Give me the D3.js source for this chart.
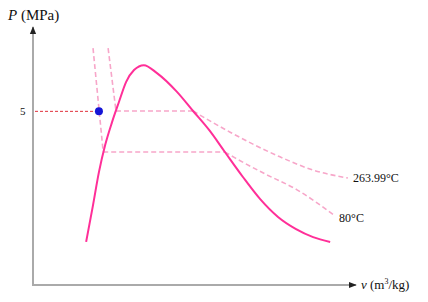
<!DOCTYPE html>
<html lang="en">
<head>
<meta charset="UTF-8">
<title>P-v diagram</title>
<script src="https://d3js.org/d3.v7.min.js"></script>
<style>
  body { margin: 0; background: #fff; }
  svg { display: block; }
  text { font-family: "Liberation Serif", "Times New Roman", serif; fill: #111; }
</style>
</head>
<body>
<script>
// saturation dome [v, P] (schematic)
const dome = [
  [1.62, 1.24], [1.83, 2.30], [2.01, 3.25], [2.20, 4.03], [2.41, 4.69],
  [2.62, 5.27], [2.84, 5.85], [3.08, 6.19], [3.38, 6.33],
  [3.78, 6.10], [4.39, 5.56], [4.88, 5.01], [5.38, 4.45], [5.85, 3.83],
  [6.40, 3.11], [6.92, 2.48], [7.47, 1.96], [8.02, 1.61], [8.54, 1.38], [9.06, 1.24]
];

// isotherms: liquid part, flat part, vapour part
const isoHigh = {
  label: "263.99°C",
  liquid: [[2.29, 6.82], [2.53, 5.01]],
  flat: [[2.53, 5.01], [4.88, 5.01]],
  vapour: [[4.88, 5.01], [5.24, 4.81], [6.01, 4.40], [7.53, 3.69], [8.54, 3.31], [9.60, 3.08]]
};
const isoLow = {
  label: "80°C",
  liquid: [[1.83, 6.82], [2.14, 3.83]],
  flat: [[2.14, 3.83], [5.85, 3.83]],
  vapour: [[5.85, 3.83], [6.16, 3.66], [7.01, 3.23], [8.05, 2.74], [9.21, 1.99]]
};

const statePoint = [2.01, 5.0];
const yTicks = [5];

const width = 428, height = 302;
const svg = d3.select("body").append("svg")
  .attr("width", width)
  .attr("height", height);

const x = d3.scaleLinear().domain([0, 10]).range([33, 361]);
const y = d3.scaleLinear().domain([0, 7.4]).range([285, 28]);

const defs = svg.append("defs");
defs.append("marker")
  .attr("id", "arrow")
  .attr("viewBox", "0 0 10 10")
  .attr("refX", 9).attr("refY", 5)
  .attr("markerWidth", 4).attr("markerHeight", 4)
  .attr("markerUnits", "strokeWidth")
  .attr("orient", "auto")
  .append("path")
  .attr("d", "M0,1 L10,5 L0,9 Z")
  .attr("fill", "#222");

// axes
svg.append("line")
  .attr("x1", x(0)).attr("y1", y(0))
  .attr("x2", x(0)).attr("y2", 27)
  .attr("stroke", "#aaa").attr("stroke-width", 2)
  .attr("marker-end", "url(#arrow)");
svg.append("line")
  .attr("x1", x(0) - 1).attr("y1", y(0))
  .attr("x2", 356).attr("y2", y(0))
  .attr("stroke", "#aaa").attr("stroke-width", 2)
  .attr("marker-end", "url(#arrow)");

const lineLin = d3.line().x(d => x(d[0])).y(d => y(d[1]));
const lineCurve = d3.line().x(d => x(d[0])).y(d => y(d[1])).curve(d3.curveMonotoneX);

// isotherms
[isoHigh, isoLow].forEach(iso => {
  const g = svg.append("g")
    .attr("fill", "none")
    .attr("stroke", "#f7a6c9")
    .attr("stroke-width", 1.6)
    .attr("stroke-dasharray", "5,3");
  g.append("path").attr("d", lineLin(iso.liquid));
  g.append("path").attr("d", lineLin(iso.flat));
  g.append("path").attr("d", lineCurve(iso.vapour));
});

// dome
svg.append("path")
  .attr("d", lineCurve(dome))
  .attr("fill", "none")
  .attr("stroke", "#ff2f98")
  .attr("stroke-width", 2);

// guide from P axis to the state
svg.append("line")
  .attr("x1", x(0) + 2).attr("y1", y(statePoint[1]))
  .attr("x2", x(statePoint[0])).attr("y2", y(statePoint[1]))
  .attr("stroke", "#e0303a").attr("stroke-width", 1)
  .attr("stroke-dasharray", "3,2");

svg.append("circle")
  .attr("cx", x(statePoint[0])).attr("cy", y(statePoint[1]))
  .attr("r", 4)
  .attr("fill", "#1515d6");

// tick labels
svg.selectAll(".ytick")
  .data(yTicks)
  .join("text")
  .attr("class", "ytick")
  .attr("x", 20).attr("y", d => y(d) + 4)
  .attr("font-size", 11)
  .text(d => d);

// isotherm labels
svg.append("text")
  .attr("x", x(isoHigh.vapour[isoHigh.vapour.length - 1][0]) + 5)
  .attr("y", y(isoHigh.vapour[isoHigh.vapour.length - 1][1]) + 4)
  .attr("font-size", 12)
  .text(isoHigh.label);
svg.append("text")
  .attr("x", x(isoLow.vapour[isoLow.vapour.length - 1][0]) + 4)
  .attr("y", y(isoLow.vapour[isoLow.vapour.length - 1][1]) + 6)
  .attr("font-size", 12)
  .text(isoLow.label);

// axis titles
const pt = svg.append("text").attr("x", 8).attr("y", 20).attr("font-size", 15);
pt.append("tspan").attr("font-style", "italic").text("P");
pt.append("tspan").text(" (MPa)");

const vt = svg.append("text").attr("x", 361).attr("y", 289).attr("font-size", 13);
vt.append("tspan").attr("font-style", "italic").text("v");
vt.append("tspan").text(" (m");
vt.append("tspan").attr("font-size", 8).attr("dy", -5).text("3");
vt.append("tspan").attr("dy", 5).text("/kg)");
</script>
</body>
</html>
